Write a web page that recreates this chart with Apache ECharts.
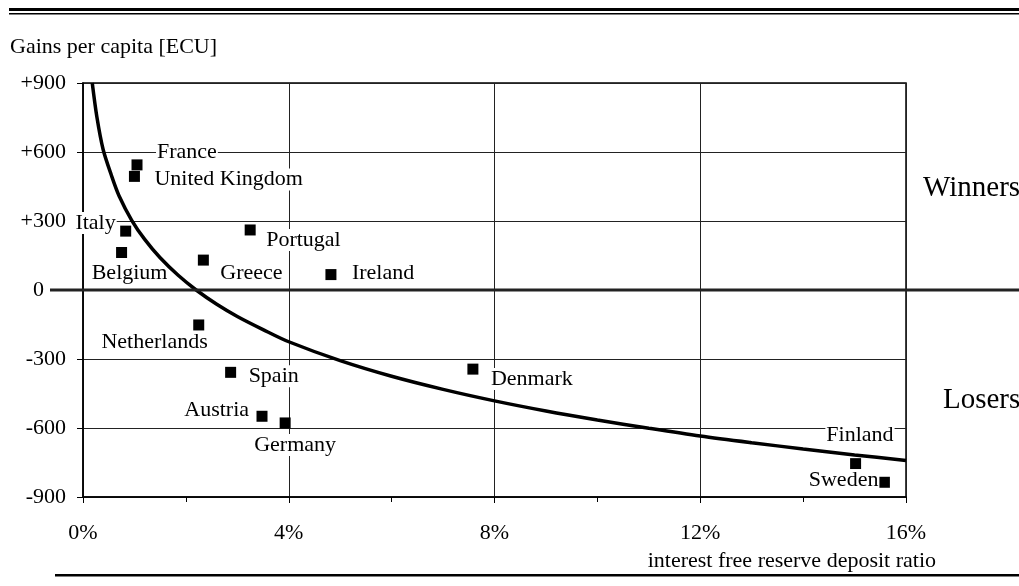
<!DOCTYPE html>
<html>
<head>
<meta charset="utf-8">
<script src="https://cdn.jsdelivr.net/npm/echarts@6/dist/echarts.min.js"></script>
<style>
html, body { margin: 0; padding: 0; background: #fff; }
#chart { width: 1019px; height: 586px; }
</style>
</head>
<body>
<div id="chart"></div>
<script>
// countries and their points
var countries = ['France', 'United Kingdom', 'Italy', 'Belgium', 'Greece', 'Portugal', 'Ireland',
  'Netherlands', 'Spain', 'Austria', 'Germany', 'Denmark', 'Finland', 'Sweden'];
// interest free reserve deposit ratio (%)
var ratio = [1.05, 1.0, 0.83, 0.75, 2.34, 3.25, 4.82, 2.25, 2.87, 3.48, 3.93, 7.58, 15.02, 15.58];
// gains per capita (ECU)
var gains = [544, 494, 256, 163, 130, 261, 67, -152, -358, -549, -578, -344, -755, -836];

// the break-even curve
var curveX = [0.18, 0.27, 0.39, 0.55, 0.7, 0.95, 1.2, 1.5, 1.85, 2.2, 2.6, 3.0, 3.5, 4.0, 5.0, 6.0, 7.0, 8.0, 9.0, 10.0, 11.0, 12.0, 13.0, 14.0, 15.0, 16.0];
var curveY = [900, 752, 612, 500, 410, 302, 220, 140, 64, 0, -62, -115, -172, -225, -307, -375, -432, -482, -526, -565, -601, -635, -664, -691, -717, -741];

var font = '"Liberation Serif", "Times New Roman", serif';

// where each country's name sits next to its square
var labelLayout = {
  'France': { align: 'left', offset: [19, -13] },
  'United Kingdom': { align: 'left', offset: [19, 3] },
  'Italy': { align: 'right', offset: [-9, -8] },
  'Belgium': { align: 'center', offset: [8, 21] },
  'Greece': { align: 'left', offset: [16, 13] },
  'Portugal': { align: 'left', offset: [15, 10] },
  'Ireland': { align: 'left', offset: [20, -1] },
  'Netherlands': { align: 'right', offset: [10, 17] },
  'Spain': { align: 'left', offset: [17, 4] },
  'Austria': { align: 'right', offset: [-12, -6] },
  'Germany': { align: 'center', offset: [10, 22] },
  'Denmark': { align: 'left', offset: [17, 10] },
  'Finland': { align: 'right', offset: [39, -28] },
  'Sweden': { align: 'right', offset: [-5, -2] }
};

var pointData = [];
for (var i = 0; i < countries.length; i++) {
  var lay = labelLayout[countries[i]];
  pointData.push({
    name: countries[i],
    value: [ratio[i], gains[i]],
    label: { align: lay.align, offset: lay.offset }
  });
}

var curveData = [];
for (var i = 0; i < curveX.length; i++) {
  curveData.push([curveX[i], curveY[i]]);
}

var chart = echarts.init(document.getElementById('chart'), null, { renderer: 'canvas' });

chart.setOption({
  animation: false,
  backgroundColor: '#fff',
  grid: { left: 83, right: 113, top: 83, bottom: 89, show: true, borderColor: '#000', borderWidth: 1.5, backgroundColor: 'transparent' },
  xAxis: {
    type: 'value',
    min: 0,
    max: 16,
    interval: 4,
    axisLine: { show: true, onZero: false, lineStyle: { color: '#000', width: 1.5 } },
    axisTick: { show: true, inside: false, length: 6, lineStyle: { color: '#000', width: 1 } },
    minorTick: { show: true, splitNumber: 2, length: 5, lineStyle: { color: '#000', width: 1 } },
    splitLine: { show: true, lineStyle: { color: '#222', width: 1 } },
    axisLabel: {
      margin: 25,
      fontFamily: font,
      fontSize: 22,
      color: '#000',
      formatter: function (v) { return v + '%'; }
    }
  },
  yAxis: {
    type: 'value',
    min: -900,
    max: 900,
    interval: 300,
    axisLine: { show: true, onZero: false, lineStyle: { color: '#000', width: 1.5 } },
    axisTick: { show: true, inside: false, length: 6, lineStyle: { color: '#000', width: 1 } },
    splitLine: { show: true, lineStyle: { color: '#222', width: 1 } },
    axisLabel: {
      margin: 17,
      fontFamily: font,
      fontSize: 22,
      color: '#000',
      formatter: function (v) {
        if (v === 0) return '{z|0}';
        return v > 0 ? '+' + v : String(v);
      },
      rich: {
        z: { fontFamily: font, fontSize: 22, color: '#000', padding: [0, 22, 0, 0] }
      }
    }
  },
  series: [
    {
      name: 'countries',
      type: 'scatter',
      symbol: 'rect',
      symbolSize: 11,
      z: 2,
      itemStyle: { color: '#000', opacity: 1 },
      label: {
        show: true,
        position: 'inside',
        verticalAlign: 'middle',
        fontFamily: font,
        fontSize: 22,
        color: '#000',
        opacity: 1,
        backgroundColor: '#fff',
        padding: [0, 1],
        formatter: '{b}'
      },
      data: pointData
    },
    {
      name: 'curve',
      type: 'line',
      smooth: 0.3,
      showSymbol: false,
      clip: true,
      z: 3,
      lineStyle: { color: '#000', width: 3.5 },
      data: curveData
    }
  ],
  graphic: [
    // double rule at the top
    { id: 'ruleTop1', type: 'rect', shape: { x: 9, y: 8, width: 1010, height: 3 }, style: { fill: '#000' } },
    { id: 'ruleTop2', type: 'rect', shape: { x: 9, y: 13, width: 1010, height: 1.5 }, style: { fill: '#000' } },
    // rule at the bottom
    { id: 'ruleBottom', type: 'rect', shape: { x: 55, y: 574, width: 964, height: 2.5 }, style: { fill: '#000' } },
    {
      id: 'yName', type: 'text', left: 10, top: 36,
      style: { text: 'Gains per capita [ECU]', font: '22px ' + font, fill: '#000' }
    },
    {
      id: 'xName', type: 'text', x: 936, y: 561,
      style: { text: 'interest free reserve deposit ratio', font: '22px ' + font, fill: '#000', align: 'right', verticalAlign: 'middle' }
    },
    {
      id: 'winners', type: 'text', x: 923, y: 188,
      style: { text: 'Winners', font: '29px ' + font, fill: '#000', align: 'left', verticalAlign: 'middle' }
    },
    {
      id: 'losers', type: 'text', x: 943, y: 400,
      style: { text: 'Losers', font: '29px ' + font, fill: '#000', align: 'left', verticalAlign: 'middle' }
    }
  ]
});

// the heavy zero line runs past the plot on both sides
var y0 = chart.convertToPixel({ yAxisIndex: 0 }, 0);
chart.setOption({
  graphic: [
    { id: 'zeroLine', type: 'rect', z: 10, shape: { x: 50, y: y0 - 1.5, width: 969, height: 3 }, style: { fill: '#222' } }
  ]
});
</script>
</body>
</html>
